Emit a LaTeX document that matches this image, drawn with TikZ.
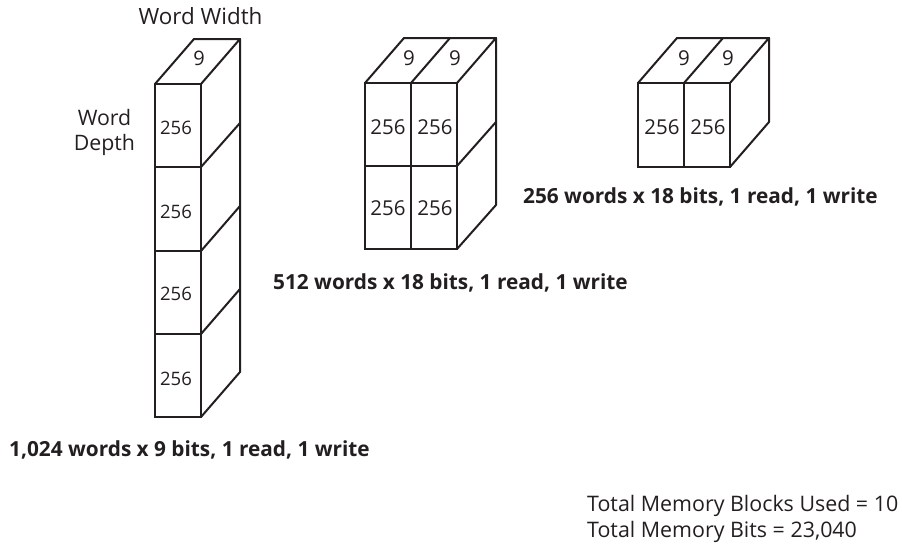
\documentclass[tikz,border=0pt]{standalone}
\usepackage{fontspec}
\setmainfont{Open Sans}
\tikzset{
  cellbox/.style={draw=inkc,line width=2pt,minimum width=46pt,minimum height=83pt,inner sep=0pt,outer sep=0pt,anchor=north west},
  edge/.style={draw=inkc,line width=2pt,line cap=round,line join=round},
  num/.style={text=inkc,inner sep=0pt,font=\fontsize{#1}{#1}\selectfont},
  num/.default=20.5pt,
  lab/.style={text=inkc,inner sep=0pt,font=\fontsize{21.4pt}{26.5pt}\selectfont,align=left},
  hd/.style={text=inkc,inner sep=0pt,anchor=west,font=\fontsize{20.8pt}{21pt}\selectfont\bfseries},
}
\definecolor{inkc}{HTML}{231F20}
\begin{document}
\begin{tikzpicture}[x=1pt,y=-1pt]
\useasboundingbox (0,0) rectangle (902,546);
% Block 1
\node[cellbox] (a1) at (155,84) {};
\node[cellbox,minimum height=84pt] (a2) at (155,167) {};
\node[cellbox] (a3) at (155,251) {};
\node[cellbox] (a4) at (155,334) {};
\coordinate (aTL) at (194,39);
\coordinate (aTR) at (240,39);
\coordinate (aM1) at (240,123);
\coordinate (aM2) at (240,206);
\coordinate (aM3) at (240,289);
\coordinate (aBR) at (240,372);
\draw[edge] (a1.north west) -- (aTL) -- (aTR) -- (a1.north east);
\draw[edge] (aTR) -- (aBR) -- (a4.south east);
\draw[edge] (a1.south east) -- (aM1);
\draw[edge] (a2.south east) -- (aM2);
\draw[edge] (a3.south east) -- (aM3);
\node[num=18.5pt] (a1t) at (176,128) {256};
\node[num=18.5pt] (a2t) at (176,212) {256};
\node[num=18.5pt] (a3t) at (176,294) {256};
\node[num=18.5pt] (a4t) at (176,379) {256};
\node[num=20pt] (a9) at (199,58) {9};
% Block 2
\node[cellbox] (b1) at (365,83) {};
\node[cellbox] (b2) at (411,83) {};
\node[cellbox] (b3) at (365,166) {};
\node[cellbox] (b4) at (411,166) {};
\coordinate (bTL) at (404,38);
\coordinate (bTM) at (450,38);
\coordinate (bTR) at (496,38);
\coordinate (bM) at (496,122);
\coordinate (bBR) at (496,205);
\draw[edge] (b1.north west) -- (bTL) -- (bTR) -- (b2.north east);
\draw[edge] (b2.north west) -- (bTM);
\draw[edge] (bTR) -- (bBR) -- (b4.south east);
\draw[edge] (b2.south east) -- (bM);
\node[num] (b1t) at (388,127) {256};
\node[num] (b2t) at (435,127) {256};
\node[num] (b3t) at (388,208) {256};
\node[num] (b4t) at (435,208) {256};
\node[num] (b5) at (409,58) {9};
\node[num] (b6) at (455,58) {9};
% Block 3
\node[cellbox,minimum height=84pt] (c1) at (638,83) {};
\node[cellbox,minimum height=84pt] (c2) at (684,83) {};
\coordinate (cTL) at (677,38);
\coordinate (cTM) at (723,38);
\coordinate (cTR) at (769,38);
\coordinate (cBR) at (769,122);
\draw[edge] (c1.north west) -- (cTL) -- (cTR) -- (c2.north east);
\draw[edge] (c2.north west) -- (cTM);
\draw[edge] (cTR) -- (cBR) -- (c2.south east);
\node[num] (c1t) at (662,127) {256};
\node[num] (c2t) at (708,127) {256};
\node[num] (c3) at (684,58) {9};
\node[num] (c4) at (728,58) {9};
% Labels
\node[lab,anchor=base,font=\fontsize{22.4pt}{26pt}\selectfont] (ww) at (200.5,24) {Word Width};
\node[lab,align=center,font=\fontsize{21.3pt}{25.5pt}\selectfont] (wd) at (104.5,132.5) {Word\\Depth};
\node[hd] (h1) at (9,450) {1,024 words x 9 bits, 1 read, 1 write};
\node[hd] (h2) at (273,283) {512 words x 18 bits, 1 read, 1 write};
\node[hd] (h3) at (523,197) {256 words x 18 bits, 1 read, 1 write};
\node[lab,anchor=west] (tot) at (587,519) {Total Memory Blocks Used = 10\\Total Memory Bits = 23,040};
\end{tikzpicture}
\end{document}
